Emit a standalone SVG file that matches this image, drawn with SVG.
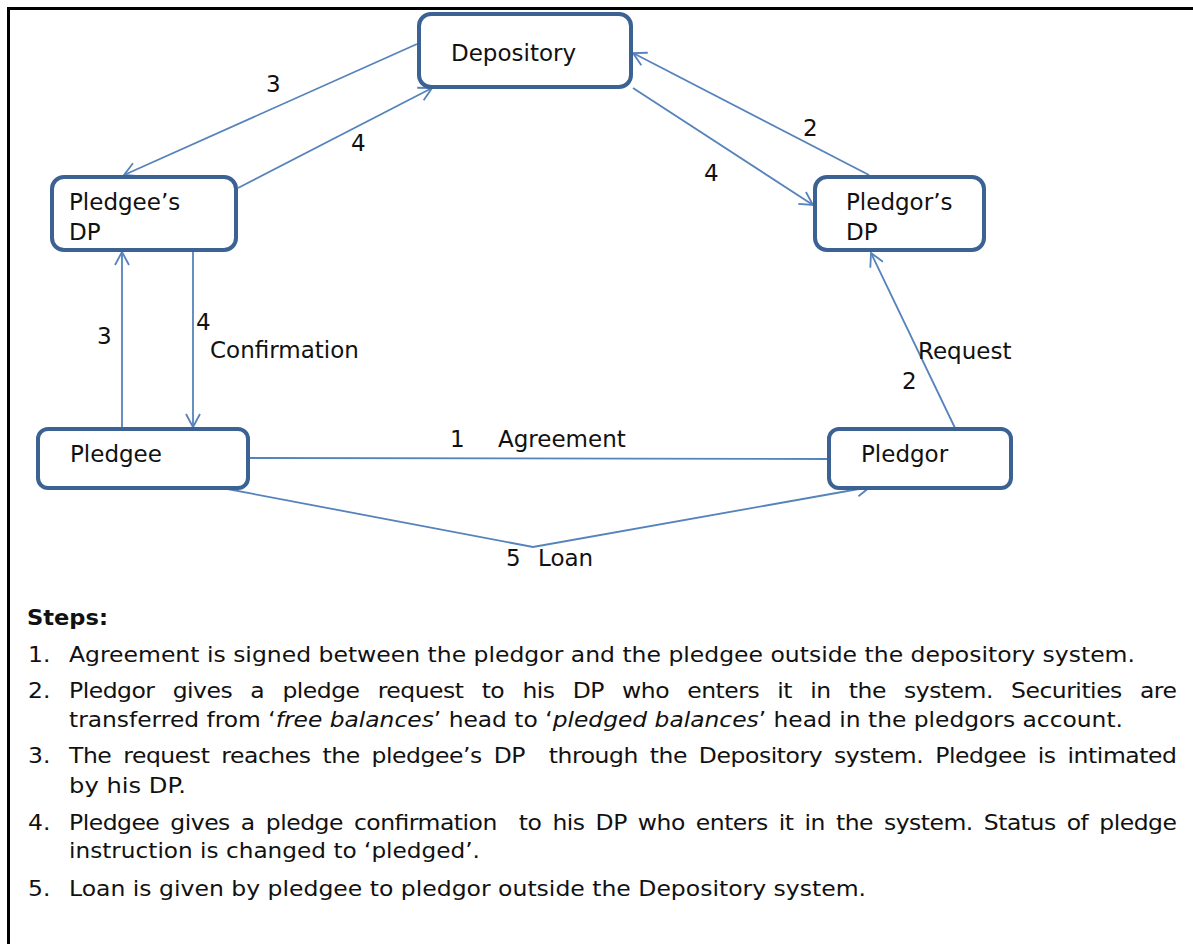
<svg xmlns="http://www.w3.org/2000/svg" width="1193" height="944" viewBox="0 0 1193 944">
<style>
.box{fill:#fff;stroke:#3b6293;stroke-width:4}
.lbl{font-family:"DejaVu Sans","Liberation Sans",sans-serif;font-size:23px;fill:#111}
.con{fill:none;stroke:#5683bb;stroke-width:1.8}
.st{font-family:"DejaVu Sans","Liberation Sans",sans-serif;font-size:22px;fill:#111}
.it{font-style:italic}
</style>
<defs>
<marker id="arr" viewBox="-15 -9 17 18" refX="0" refY="0" markerWidth="17" markerHeight="18" markerUnits="userSpaceOnUse" orient="auto">
<path d="M-13,-7 L0,0 L-13,7" fill="none" stroke="#5683bb" stroke-width="1.8"/>
</marker>
</defs>
<rect width="1193" height="944" fill="#fff"/>
<g id="frame" stroke="#000" stroke-width="3">
<line x1="8" y1="8.5" x2="1193" y2="8.5"/>
<line x1="8.5" y1="7" x2="8.5" y2="944"/>
</g>
<g id="connectors">
<line class="con" x1="417" y1="44" x2="124" y2="175" marker-end="url(#arr)"/>
<line class="con" x1="238" y1="188" x2="432" y2="88" marker-end="url(#arr)"/>
<line class="con" x1="633" y1="88" x2="813" y2="205" marker-end="url(#arr)"/>
<line class="con" x1="869" y1="175" x2="633" y2="53" marker-end="url(#arr)"/>
<line class="con" x1="955" y1="428" x2="871" y2="253" marker-end="url(#arr)"/>
<line class="con" x1="122" y1="428" x2="122" y2="252" marker-end="url(#arr)"/>
<line class="con" x1="193" y1="252" x2="193" y2="427" marker-end="url(#arr)"/>
<line class="con" x1="250" y1="458" x2="828" y2="459"/>
<polyline class="con" points="222,488 533,547 870,487" marker-end="url(#arr)"/>
<g class="lbl">
<text x="266" y="92">3</text>
<text x="351" y="151">4</text>
<text x="803" y="136">2</text>
<text x="704" y="181">4</text>
<text x="97" y="344">3</text>
<text x="196" y="330">4</text>
<text x="210" y="358">Confirmation</text>
<text x="918" y="359">Request</text>
<text x="902" y="389">2</text>
<text x="450" y="447">1</text>
<text x="498" y="447">Agreement</text>
<text x="506" y="566">5</text>
<text x="538" y="566">Loan</text>
</g>
</g>
<g id="depository">
<rect class="box" x="419" y="14" width="212" height="73" rx="12"/>
<text class="lbl" x="451" y="61">Depository</text>
</g>
<g id="pledgee-dp">
<rect class="box" x="52" y="177" width="184" height="73" rx="12"/>
<text class="lbl" x="69" y="210">Pledgee’s</text>
<text class="lbl" x="69" y="240">DP</text>
</g>
<g id="pledgor-dp">
<rect class="box" x="815" y="177" width="169" height="73" rx="12"/>
<text class="lbl" x="846" y="210">Pledgor’s</text>
<text class="lbl" x="846" y="240">DP</text>
</g>
<g id="pledgee">
<rect class="box" x="38" y="429" width="210" height="59" rx="10"/>
<text class="lbl" x="70" y="462">Pledgee</text>
</g>
<g id="pledgor">
<rect class="box" x="829" y="429" width="182" height="59" rx="10"/>
<text class="lbl" x="861" y="462">Pledgor</text>
</g>
<g id="steps" class="st">
<text x="27" y="625" font-weight="bold" textLength="81" lengthAdjust="spacingAndGlyphs">Steps:</text>
<g transform="translate(28 0) scale(1.067 1)">
<text x="0" y="662">1.</text>
<text x="0" y="698">2.</text>
<text x="0" y="763">3.</text>
<text x="0" y="830">4.</text>
<text x="0" y="896">5.</text>
</g>
<g transform="translate(69 0) scale(1.067 1)">
<text x="0" y="662" textLength="999" lengthAdjust="spacingAndGlyphs">Agreement is signed between the pledgor and the pledgee outside the depository system.</text>
<text x="0" y="698" word-spacing="10.5" textLength="1038.4" lengthAdjust="spacing">Pledgor gives a pledge request to his DP who enters it in the system. Securities are</text>
<text x="0" y="727" textLength="987.8" lengthAdjust="spacingAndGlyphs">transferred from ‘<tspan class="it">free balances</tspan>’ head to ‘<tspan class="it">pledged balances</tspan>’ head in the pledgors account.</text>
<text x="0" y="763" word-spacing="4.5" textLength="1038.4" lengthAdjust="spacing" xml:space="preserve">The request reaches the pledgee’s DP  through the Depository system. Pledgee is intimated</text>
<text x="0" y="793" textLength="109.7" lengthAdjust="spacingAndGlyphs">by his DP.</text>
<text x="0" y="830" word-spacing="3.8" textLength="1038.4" lengthAdjust="spacing" xml:space="preserve">Pledgee gives a pledge confirmation  to his DP who enters it in the system. Status of pledge</text>
<text x="0" y="858" textLength="385.2" lengthAdjust="spacingAndGlyphs">instruction is changed to ‘pledged’.</text>
<text x="0" y="896" textLength="747" lengthAdjust="spacingAndGlyphs">Loan is given by pledgee to pledgor outside the Depository system.</text>
</g>
</g>
</svg>
